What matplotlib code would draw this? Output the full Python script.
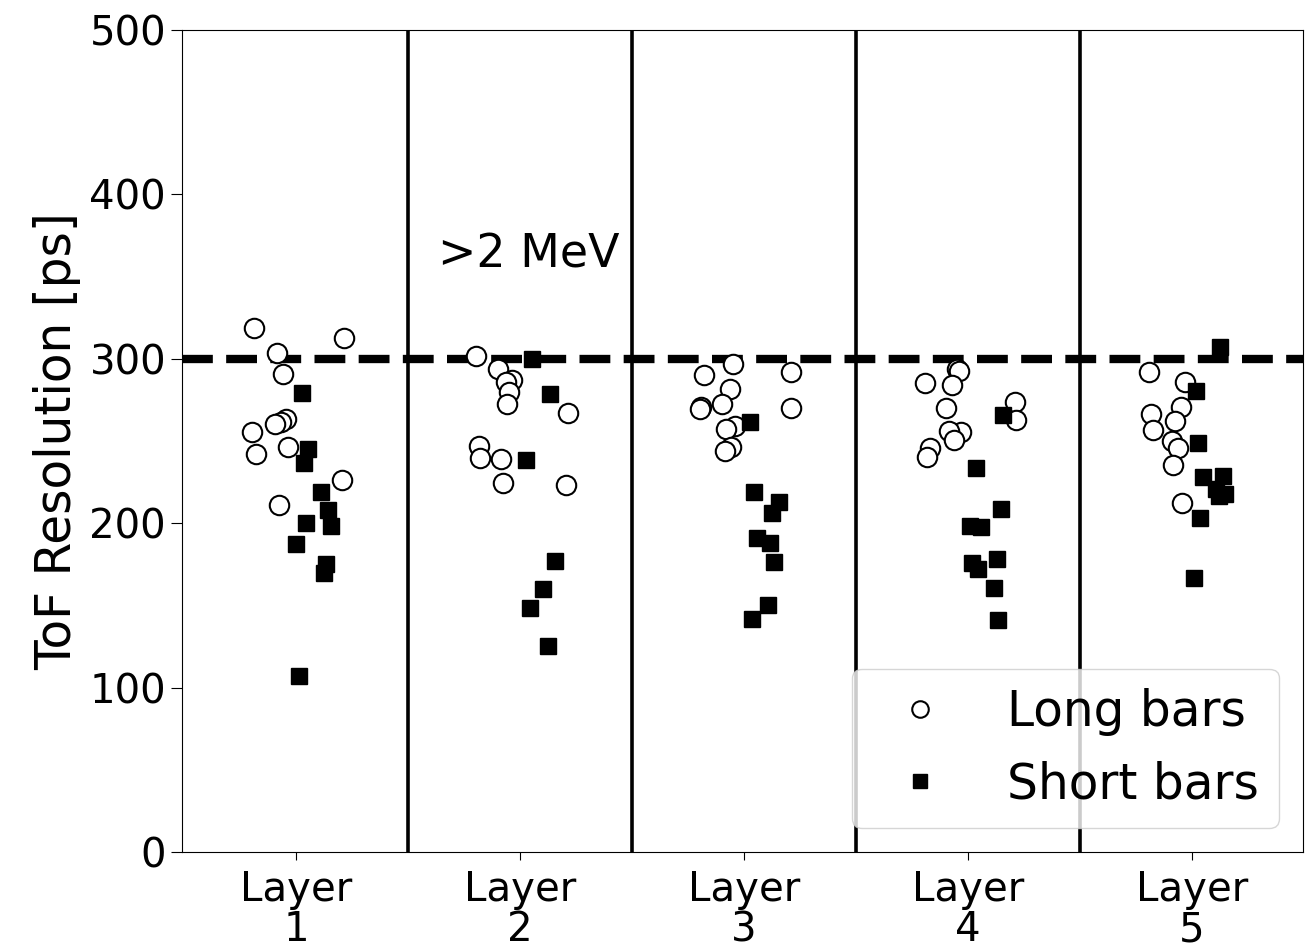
import matplotlib
matplotlib.use("Agg")
import matplotlib.pyplot as plt

layers = [1, 2, 3, 4, 5]
layer_labels = ["Layer\n1", "Layer\n2", "Layer\n3", "Layer\n4", "Layer\n5"]

# Long bars: (x position with jitter, ToF resolution in ps)
long_x = [
    0.811, 1.213, 0.912, 0.942, 0.952, 0.934, 0.903, 0.804, 0.961, 0.821, 1.202, 0.923,
    1.802, 1.902, 1.963, 1.936, 1.951, 1.943, 2.211, 1.814, 1.820, 1.914, 1.921, 2.204,
    2.951, 2.821, 3.211, 2.936, 2.903, 2.809, 2.802, 3.211, 2.958, 2.918, 2.943, 2.914,
    3.951, 3.958, 3.807, 3.926, 4.207, 3.903, 4.213, 3.966, 3.914, 3.936, 3.829, 3.814,
    4.807, 4.966, 4.948, 4.817, 4.925, 4.825, 4.908, 4.938, 4.914, 4.955,
]
long_res = [
    318.5, 312.5, 303.7, 290.8, 263.2, 261.7, 260.1, 255.5, 246.5, 242.1, 226.1, 210.9,
    301.7, 293.6, 287.1, 286.1, 280.0, 272.5, 267.2, 247.0, 239.5, 239.1, 224.7, 223.3,
    296.8, 290.0, 291.8, 281.6, 272.5, 270.9, 269.4, 269.9, 259.1, 257.1, 246.5, 244.1,
    293.8, 292.8, 285.5, 284.1, 273.9, 270.3, 262.8, 255.7, 256.3, 250.6, 245.5, 240.0,
    291.8, 286.1, 270.5, 266.4, 262.4, 256.7, 250.0, 245.5, 235.4, 212.1,
]

# Short bars
short_x = [
    1.024, 1.052, 1.034, 1.112, 1.143, 1.153, 1.042, 1.001, 1.133, 1.122, 1.012,
    2.052, 2.132, 2.025, 2.153, 2.103, 2.043, 2.124,
    3.025, 3.045, 3.155, 3.125, 3.055, 3.115, 3.134, 3.104, 3.036,
    4.156, 4.036, 4.147, 4.006, 4.055, 4.015, 4.127, 4.045, 4.116, 4.135,
    5.126, 5.018, 5.027, 5.048, 5.137, 5.107, 5.146, 5.119, 5.037, 5.008,
]
short_res = [
    279.4, 245.1, 236.4, 218.8, 208.0, 198.3, 200.3, 187.5, 175.2, 169.5, 107.2,
    299.9, 278.6, 238.4, 177.2, 160.2, 148.2, 125.5,
    261.4, 219.2, 212.7, 206.0, 191.2, 188.2, 176.6, 150.2, 141.7,
    265.8, 233.8, 208.4, 198.3, 197.9, 175.6, 178.4, 172.1, 160.8, 141.1,
    307.4, 280.4, 249.0, 227.9, 228.7, 220.6, 217.5, 216.7, 203.3, 166.4,
]

threshold = 300
separators = [1.5, 2.5, 3.5, 4.5]

fig = plt.figure(figsize=(13.05, 9.52), dpi=100)
ax = fig.add_axes([0.1395, 0.105, 0.859, 0.8635])

ax.plot(long_x, long_res, linestyle="none", marker="o", markersize=14,
        markerfacecolor="white", markeredgecolor="black", markeredgewidth=1.5,
        label="Long bars", zorder=3)
ax.plot(short_x, short_res, linestyle="none", marker="s", markersize=12,
        markerfacecolor="black", markeredgecolor="black",
        label="Short bars", zorder=3)

for xs in separators:
    ax.axvline(xs, color="black", linewidth=2.6, zorder=2)
ax.axhline(threshold, color="black", linestyle="--", linewidth=6, zorder=2)

ax.text(2.04, 363, ">2 MeV", fontsize=33, ha="center", va="center")

ax.set_xlim(0.49, 5.495)
ax.set_ylim(0, 500)
ax.set_xticks(layers)
ax.set_xticklabels(layer_labels, fontsize=29, linespacing=1.0)
ax.set_yticks([0, 100, 200, 300, 400, 500])
ax.tick_params(axis="y", labelsize=29, length=8)
ax.tick_params(axis="x", length=6, pad=7)
ax.set_ylabel("ToF Resolution [ps]", fontsize=35, labelpad=6)

ax.legend(loc="lower right", fontsize=35, markerscale=0.85)

fig.savefig("out.png", dpi=100)
